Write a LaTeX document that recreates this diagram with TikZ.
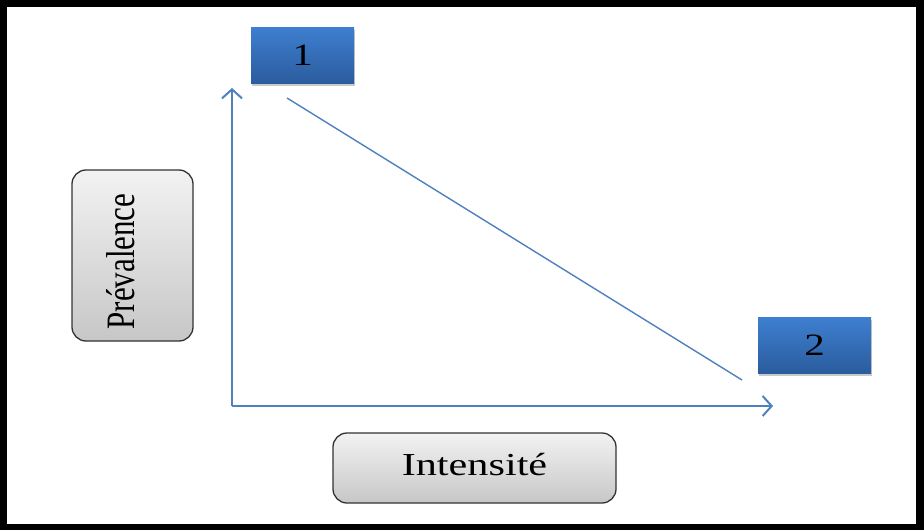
\documentclass[tikz,border=0pt]{standalone}
\usepackage{fontspec}
\setmainfont{Liberation Serif}
\usetikzlibrary{arrows.meta,shadows}
\definecolor{axisblue}{HTML}{4F81BD}
\definecolor{boxtop}{HTML}{3E7FD0}
\definecolor{boxbot}{HTML}{2B5C9E}
\tikzset{
  bluebox/.style={rectangle, inner sep=0pt, top color=boxtop, bottom color=boxbot,
    draw=none, drop shadow={shadow xshift=1pt, shadow yshift=-3pt, opacity=0.35, fill=black!60}},
  graybox/.style={rectangle, rounded corners=14pt, inner sep=0pt, draw=black!80, line width=1.3pt,
    top color=black!5, bottom color=black!22},
  axisline/.style={draw=axisblue, line width=2pt, -{Straight Barb[length=9pt,width=20pt]}},
  diagline/.style={draw=axisblue, line width=1.4pt},
}
\newcommand{\wide}[1]{\scalebox{1.32}[1]{#1}}
\begin{document}
\begin{tikzpicture}[x=1pt,y=-1pt]
\fill[black] (0,0) rectangle (924,530);
\fill[white] (7,7) rectangle (916,524);
\useasboundingbox (0,0) rectangle (924,530);

\node[bluebox, minimum width=103pt, minimum height=56pt] (b1) at (302.5,55)
  {\fontsize{31}{31}\selectfont\wide{1}};
\node[bluebox, minimum width=113pt, minimum height=56pt] (b2) at (814.5,345)
  {\fontsize{31}{31}\selectfont\wide{2}};
\node[graybox, minimum width=121pt, minimum height=171pt] (prev) at (132.5,255.5) {};
\node[rotate=90, inner sep=0pt] (prevtext) at (121,261.5)
  {\scalebox{1}[1.3]{\fontsize{31}{31}\selectfont Prévalence}};
\node[graybox, minimum width=283pt, minimum height=70pt] (intens) at (474.5,468)
  {\raisebox{7pt}{\fontsize{32}{32}\selectfont\wide{Intensité}}};

\coordinate (o) at (232,406);
\coordinate (ytop) at (232,88);
\coordinate (xend) at (773,406);
\coordinate (d1) at (287,98);
\coordinate (d2) at (742,380);

\draw[axisline] (o) -- (ytop);
\draw[axisline] (o) -- (xend);
\draw[diagline] (d1) -- (d2);
\end{tikzpicture}
\end{document}
